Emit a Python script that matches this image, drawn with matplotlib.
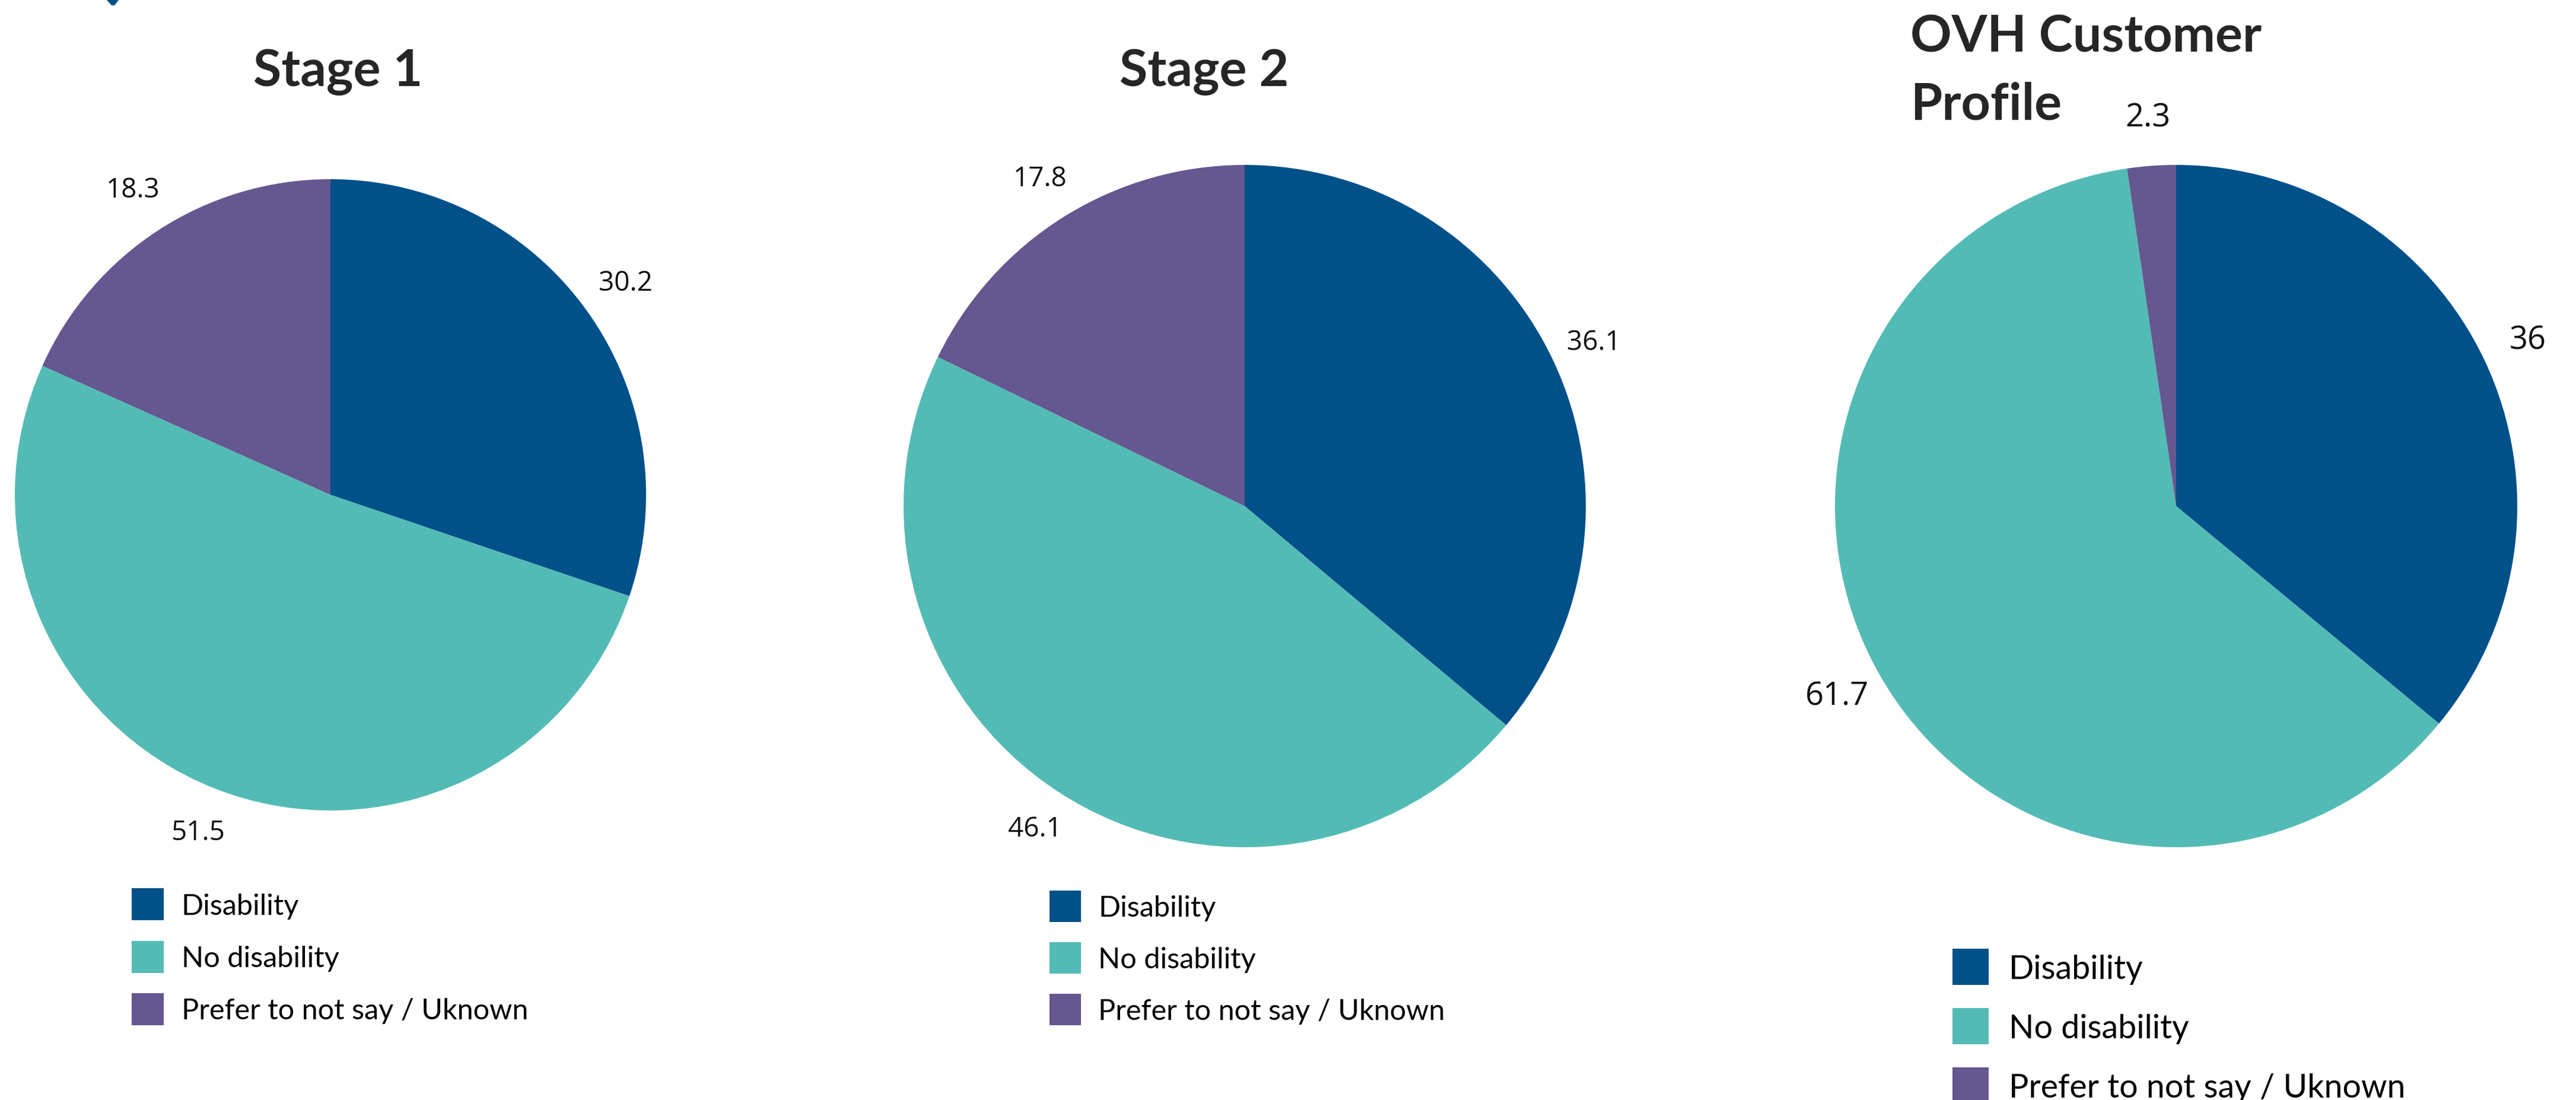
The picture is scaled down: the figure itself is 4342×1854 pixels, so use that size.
import matplotlib.pyplot as plt
from matplotlib.patches import Rectangle, Polygon

W, H = 4342, 1854

# data
categories = ['Disability', 'No disability', 'Prefer to not say / Uknown']
colors = ['#00508a', '#53bbb5', '#65578f']
titles = ['Stage 1', 'Stage 2', 'OVH Customer Profile']
stage1 = [30.2, 51.5, 18.3]
stage2 = [36.1, 46.1, 17.8]
ovh = [36, 61.7, 2.3]
label_text = [['30.2', '51.5', '18.3'], ['36.1', '46.1', '17.8'], ['36', '61.7', '2.3']]

fig = plt.figure(figsize=(W / 100, H / 100), dpi=100)
fig.patch.set_facecolor('white')


def px(x, y):
    # pixel position from top-left -> figure fraction
    return x / W, 1 - y / H


# (center x, center y, radius, label distance, label size)
pie_boxes = [(557, 834, 532, 1.15, 33),
             (2098, 853, 575, 1.13, 33),
             (3668, 853, 575, 1.14, 39)]

for vals, labs, (cx, cy, r, ld, fs) in zip([stage1, stage2, ovh], label_text, pie_boxes):
    ax = fig.add_axes([(cx - r) / W, (H - cy - r) / H, 2 * r / W, 2 * r / H])
    wedges, texts = ax.pie(vals, labels=labs, colors=colors, startangle=90,
                           counterclock=False, labeldistance=ld, radius=1,
                           wedgeprops=dict(linewidth=0),
                           textprops=dict(fontsize=fs, family='Open Sans', color='#111111'))
    for t in texts:
        t.set_ha('center')
        t.set_va('center')
    ax.set_xlim(-1, 1)
    ax.set_ylim(-1, 1)
    ax.set_aspect('equal')
    ax.axis('off')

# titles
tkw = dict(fontsize=62, fontweight='bold', family='Lato', color='#262626')
fig.text(*px(570, 145), titles[0], ha='center', va='baseline', **tkw)
fig.text(*px(2030, 145), titles[1], ha='center', va='baseline', **tkw)
fig.text(*px(3220, 88), 'OVH Customer', ha='left', va='baseline', **tkw)
fig.text(*px(3220, 202), 'Profile', ha='left', va='baseline', **tkw)

# legends: (square left, square size, first row top, row step, text x, font size)
legend_boxes = [(222, 54, 1497, 88.5, 306, 35),
                (1769, 53, 1501, 87, 1851, 35),
                (3291, 61, 1599, 100, 3386, 40)]
for sx, s, top, step, tx, fs in legend_boxes:
    for i, (cat, col) in enumerate(zip(categories, colors)):
        y0 = top + i * step
        x0, y1 = px(sx, y0 + s)
        fig.add_artist(Rectangle((x0, y1), s / W, s / H, transform=fig.transFigure,
                                 facecolor=col, edgecolor='none'))
        base = y0 + s / 2 + fs * 0.5
        fig.text(*px(tx, base), cat, ha='left', va='baseline', fontsize=fs,
                 family='Lato', color='black')

# small mark at the top-left edge
fig.add_artist(Polygon([px(180, 0), px(200, 0), px(193, 9), px(188, 9)],
                       closed=True, transform=fig.transFigure,
                       facecolor='#00508a', edgecolor='none'))

fig.savefig('out.png', dpi=100, facecolor='white')
